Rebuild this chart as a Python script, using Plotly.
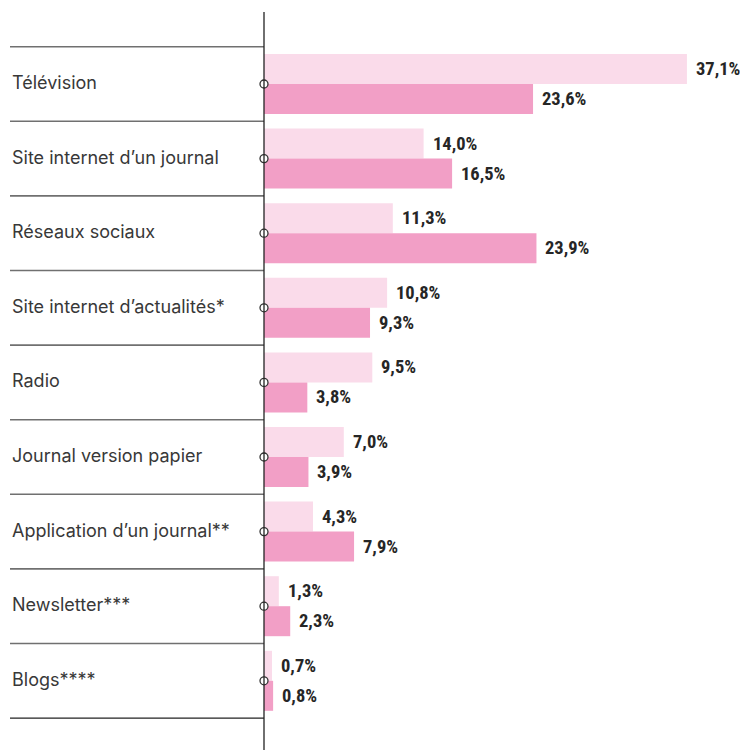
import plotly.graph_objects as go

categories = ["Télévision", "Site internet d’un journal", "Réseaux sociaux",
              "Site internet d’actualités*", "Radio", "Journal version papier",
              "Application d’un journal**", "Newsletter***", "Blogs****"]
series_a = [37.1, 14.0, 11.3, 10.8, 9.5, 7.0, 4.3, 1.3, 0.7]
series_b = [23.6, 16.5, 23.9, 9.3, 3.8, 3.9, 7.9, 2.3, 0.8]

# page body has an 8px margin, so the figure is drawn smaller and shifted
OFF = 8
W, H = 748 - OFF, 750 - OFF
AXIS_PX = 264 - OFF
PX_PER_UNIT = 11.4
ROW0_PX = 84 - OFF
ROW_PX = 74.6
BAR_PX = 30
LEFT_PX = 10 - OFF

x_range = [-AXIS_PX / PX_PER_UNIT, (W - AXIS_PX) / PX_PER_UNIT]
y_range = [(H - ROW0_PX) / ROW_PX, -ROW0_PX / ROW_PX]
bw = BAR_PX / ROW_PX
idx = list(range(len(categories)))

def fmt(v):
    return f"{v:.1f}".replace(".", ",") + "%"

fig = go.Figure()
fig.add_trace(go.Bar(y=idx, x=series_a, orientation="h", width=bw, offset=-bw,
                     marker=dict(color="#fadbea", line=dict(width=0)), showlegend=False))
fig.add_trace(go.Bar(y=idx, x=series_b, orientation="h", width=bw, offset=0,
                     marker=dict(color="#f29fc6", line=dict(width=0)), showlegend=False))

shapes = []
for i in range(len(categories) + 1):
    last = i == len(categories)
    shapes.append(dict(type="line", xref="paper", yref="y",
                       x0=LEFT_PX / W, x1=AXIS_PX / W, y0=i - 0.5, y1=i - 0.5,
                       line=dict(color="#222222" if last else "#707070", width=1.3 if last else 1.6)))
shapes.append(dict(type="line", xref="x", yref="paper", x0=0, x1=0, y0=0, y1=1 - (12 - OFF) / H,
                   line=dict(color="#222222", width=1.3)))

annotations = []
for i, c in enumerate(categories):
    annotations.append(dict(xref="paper", yref="y", x=LEFT_PX / W, y=i - 0.02, text=c,
                            xanchor="left", yanchor="middle", showarrow=False,
                            font=dict(family="Inter, Roboto, sans-serif", size=18, color="#383838")))
vfont = dict(family="Liberation Sans Narrow, Roboto Condensed, DejaVu Sans Condensed, sans-serif",
             size=18.5, color="#262626", weight="bold")
for i, (a, b) in enumerate(zip(series_a, series_b)):
    annotations.append(dict(x=a, y=i - bw / 2, text=fmt(a), xanchor="left", yanchor="middle",
                            xshift=7, showarrow=False, font=vfont))
    annotations.append(dict(x=b, y=i + bw / 2, text=fmt(b), xanchor="left", yanchor="middle",
                            xshift=7, showarrow=False, font=vfont))

fig.add_trace(go.Scatter(x=[0] * len(idx), y=idx, mode="markers", showlegend=False,
                         marker=dict(size=8, color="white", line=dict(color="#333333", width=1.3)),
                         cliponaxis=False))

fig.update_layout(width=W, height=H, margin=dict(l=0, r=0, t=0, b=0),
                  paper_bgcolor="white", plot_bgcolor="white", barmode="overlay",
                  xaxis=dict(range=x_range, visible=False, fixedrange=True),
                  yaxis=dict(range=y_range, visible=False, fixedrange=True),
                  shapes=shapes, annotations=annotations)
fig.write_html("out.html")
